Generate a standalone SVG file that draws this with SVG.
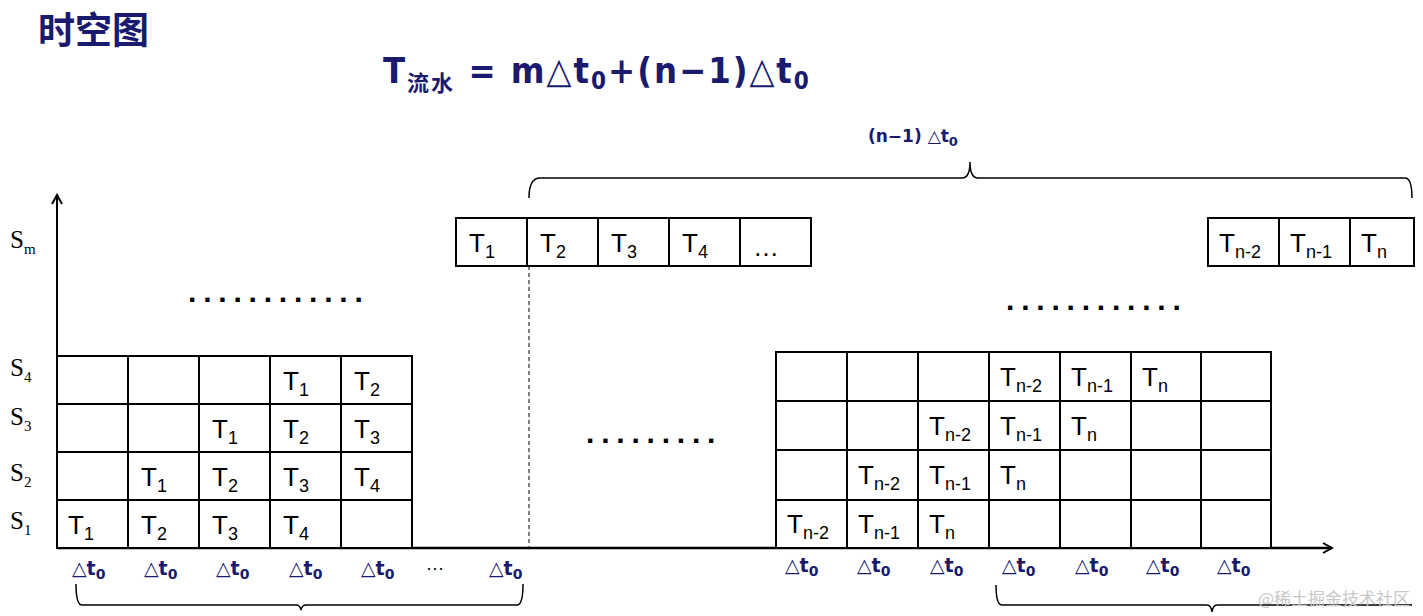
<svg xmlns="http://www.w3.org/2000/svg" width="1423" height="616" viewBox="0 0 1423 616">
<style>
.c{fill:#fff;stroke:#000;stroke-width:2}
.t{font-family:"Liberation Sans",Arial,sans-serif;font-size:26px;fill:#000}
.s{font-family:"Liberation Serif",serif;font-size:25px;fill:#000}
.d{font-family:"DejaVu Sans",sans-serif;font-size:19px;font-weight:bold;fill:#1a1a6e}
.dots{font-family:"Liberation Sans",Arial,sans-serif;font-size:30px;font-weight:bold;fill:#000;letter-spacing:6.8px}
.br{fill:none;stroke:#000;stroke-width:1.5}
</style>
<defs><marker id="ah" markerWidth="12" markerHeight="12" refX="10" refY="6" orient="auto" markerUnits="userSpaceOnUse"><path d="M1,1 L10,6 L1,11" fill="none" stroke="#000" stroke-width="2"/></marker></defs>
<rect width="1423" height="616" fill="#fff"/>
<text x="38" y="44" font-family="'Noto Sans CJK SC',sans-serif" font-size="37" font-weight="bold" fill="#1a1a6e">时空图</text>
<text x="383" y="83" font-family="'DejaVu Sans Condensed','DejaVu Sans',sans-serif" font-size="36" font-weight="bold" fill="#1a1a6e" letter-spacing="2">T<tspan font-family="'Noto Sans CJK SC',sans-serif" font-size="22" dy="8">流水</tspan><tspan dy="-8"> = m△t</tspan><tspan font-size="24" dy="6">0</tspan><tspan dy="-6">+(n−1)△t</tspan><tspan font-size="24" dy="6">0</tspan></text>
<text x="868" y="142" font-family="'DejaVu Sans',sans-serif" font-size="17" font-weight="bold" fill="#1a1a6e">(n−1) △t<tspan font-size="13" dy="4">0</tspan></text>
<g id="connectors">
<line x1="57" y1="548" x2="1332" y2="548" stroke="#000" stroke-width="2.5" marker-end="url(#ah)"/>
<line x1="57" y1="548" x2="57" y2="195" stroke="#000" stroke-width="2" marker-end="url(#ah)"/>
<line x1="529" y1="266" x2="529" y2="548" stroke="#000" stroke-width="1" stroke-dasharray="4,3"/>
<path class="br" d="M529,198 Q529,178 540,178 L962,178 Q970,178 970,162 Q970,178 978,178 L1405,178 Q1412,178 1412,198"/>
<path class="br" d="M76,584 Q76,605 82,605 L296,605 Q300,605 301,610 Q302,605 306,605 L517,605 Q523,605 523,584"/>
<path class="br" d="M996,585 Q996,605 1002,605 L1207,605 Q1211,605 1212,612 Q1213,605 1217,605 L1412,605"/>
</g>
<g id="labels-s">
<text class="s" x="10" y="248">S<tspan font-size="15" dy="6">m</tspan></text>
<text class="s" x="10" y="376">S<tspan font-size="15" dy="6">4</tspan></text>
<text class="s" x="10" y="425">S<tspan font-size="15" dy="6">3</tspan></text>
<text class="s" x="10" y="481">S<tspan font-size="15" dy="6">2</tspan></text>
<text class="s" x="10" y="529">S<tspan font-size="15" dy="6">1</tspan></text>
</g>
<g id="grid-left">
<rect class="c" x="57" y="356" width="71" height="48"/><rect class="c" x="128" y="356" width="71" height="48"/><rect class="c" x="199" y="356" width="71" height="48"/><rect class="c" x="270" y="356" width="71" height="48"/><rect class="c" x="341" y="356" width="71" height="48"/>
<rect class="c" x="57" y="404" width="71" height="48"/><rect class="c" x="128" y="404" width="71" height="48"/><rect class="c" x="199" y="404" width="71" height="48"/><rect class="c" x="270" y="404" width="71" height="48"/><rect class="c" x="341" y="404" width="71" height="48"/>
<rect class="c" x="57" y="452" width="71" height="48"/><rect class="c" x="128" y="452" width="71" height="48"/><rect class="c" x="199" y="452" width="71" height="48"/><rect class="c" x="270" y="452" width="71" height="48"/><rect class="c" x="341" y="452" width="71" height="48"/>
<rect class="c" x="57" y="500" width="71" height="48"/><rect class="c" x="128" y="500" width="71" height="48"/><rect class="c" x="199" y="500" width="71" height="48"/><rect class="c" x="270" y="500" width="71" height="48"/><rect class="c" x="341" y="500" width="71" height="48"/>
<text class="t" x="283" y="390">T<tspan font-size="18" dy="6">1</tspan></text><text class="t" x="354" y="390">T<tspan font-size="18" dy="6">2</tspan></text>
<text class="t" x="212" y="438">T<tspan font-size="18" dy="6">1</tspan></text><text class="t" x="283" y="438">T<tspan font-size="18" dy="6">2</tspan></text><text class="t" x="354" y="438">T<tspan font-size="18" dy="6">3</tspan></text>
<text class="t" x="141" y="486">T<tspan font-size="18" dy="6">1</tspan></text><text class="t" x="212" y="486">T<tspan font-size="18" dy="6">2</tspan></text><text class="t" x="283" y="486">T<tspan font-size="18" dy="6">3</tspan></text><text class="t" x="354" y="486">T<tspan font-size="18" dy="6">4</tspan></text>
<text class="t" x="68" y="534">T<tspan font-size="18" dy="6">1</tspan></text><text class="t" x="141" y="534">T<tspan font-size="18" dy="6">2</tspan></text><text class="t" x="212" y="534">T<tspan font-size="18" dy="6">3</tspan></text><text class="t" x="283" y="534">T<tspan font-size="18" dy="6">4</tspan></text>
</g>
<g id="row-sm-left">
<rect class="c" x="456" y="218" width="71" height="48"/><rect class="c" x="527" y="218" width="71" height="48"/><rect class="c" x="598" y="218" width="71" height="48"/><rect class="c" x="669" y="218" width="71" height="48"/><rect class="c" x="740" y="218" width="71" height="48"/>
<text class="t" x="469" y="252">T<tspan font-size="18" dy="6">1</tspan></text><text class="t" x="540" y="252">T<tspan font-size="18" dy="6">2</tspan></text><text class="t" x="611" y="252">T<tspan font-size="18" dy="6">3</tspan></text><text class="t" x="682" y="252">T<tspan font-size="18" dy="6">4</tspan></text><text class="t" x="753" y="256" font-size="22">…</text>
</g>
<g id="row-sm-right">
<rect class="c" x="1208" y="218" width="71" height="48"/><rect class="c" x="1279" y="218" width="71" height="48"/><rect class="c" x="1350" y="218" width="64" height="48"/>
<text class="t" x="1219" y="252">T<tspan font-size="18" dy="6">n-2</tspan></text><text class="t" x="1290" y="252">T<tspan font-size="18" dy="6">n-1</tspan></text><text class="t" x="1361" y="252">T<tspan font-size="18" dy="6">n</tspan></text>
</g>
<g id="grid-right">
<rect class="c" x="776" y="352" width="71" height="49"/><rect class="c" x="847" y="352" width="71" height="49"/><rect class="c" x="918" y="352" width="71" height="49"/><rect class="c" x="989" y="352" width="71" height="49"/><rect class="c" x="1060" y="352" width="71" height="49"/><rect class="c" x="1131" y="352" width="70" height="49"/><rect class="c" x="1201" y="352" width="70" height="49"/>
<rect class="c" x="776" y="401" width="71" height="49"/><rect class="c" x="847" y="401" width="71" height="49"/><rect class="c" x="918" y="401" width="71" height="49"/><rect class="c" x="989" y="401" width="71" height="49"/><rect class="c" x="1060" y="401" width="71" height="49"/><rect class="c" x="1131" y="401" width="70" height="49"/><rect class="c" x="1201" y="401" width="70" height="49"/>
<rect class="c" x="776" y="450" width="71" height="50"/><rect class="c" x="847" y="450" width="71" height="50"/><rect class="c" x="918" y="450" width="71" height="50"/><rect class="c" x="989" y="450" width="71" height="50"/><rect class="c" x="1060" y="450" width="71" height="50"/><rect class="c" x="1131" y="450" width="70" height="50"/><rect class="c" x="1201" y="450" width="70" height="50"/>
<rect class="c" x="776" y="500" width="71" height="48"/><rect class="c" x="847" y="500" width="71" height="48"/><rect class="c" x="918" y="500" width="71" height="48"/><rect class="c" x="989" y="500" width="71" height="48"/><rect class="c" x="1060" y="500" width="71" height="48"/><rect class="c" x="1131" y="500" width="70" height="48"/><rect class="c" x="1201" y="500" width="70" height="48"/>
<text class="t" x="1000" y="386">T<tspan font-size="18" dy="6">n-2</tspan></text><text class="t" x="1071" y="386">T<tspan font-size="18" dy="6">n-1</tspan></text><text class="t" x="1142" y="386">T<tspan font-size="18" dy="6">n</tspan></text>
<text class="t" x="929" y="435">T<tspan font-size="18" dy="6">n-2</tspan></text><text class="t" x="1000" y="435">T<tspan font-size="18" dy="6">n-1</tspan></text><text class="t" x="1071" y="435">T<tspan font-size="18" dy="6">n</tspan></text>
<text class="t" x="858" y="484">T<tspan font-size="18" dy="6">n-2</tspan></text><text class="t" x="929" y="484">T<tspan font-size="18" dy="6">n-1</tspan></text><text class="t" x="1000" y="484">T<tspan font-size="18" dy="6">n</tspan></text>
<text class="t" x="787" y="533">T<tspan font-size="18" dy="6">n-2</tspan></text><text class="t" x="858" y="533">T<tspan font-size="18" dy="6">n-1</tspan></text><text class="t" x="929" y="533">T<tspan font-size="18" dy="6">n</tspan></text>
</g>
<g id="dots">
<text class="dots" x="188" y="302">............</text>
<text class="dots" x="586" y="443">.........</text>
<text class="dots" x="1006" y="310">............</text>
</g>
<g id="axis-labels">
<text class="d" x="72" y="575">△t<tspan font-size="14" dy="4">0</tspan></text>
<text class="d" x="144" y="575">△t<tspan font-size="14" dy="4">0</tspan></text>
<text class="d" x="216" y="575">△t<tspan font-size="14" dy="4">0</tspan></text>
<text class="d" x="289" y="575">△t<tspan font-size="14" dy="4">0</tspan></text>
<text class="d" x="361" y="575">△t<tspan font-size="14" dy="4">0</tspan></text>
<text x="426" y="574" font-family="'Liberation Sans',sans-serif" font-size="18" fill="#000">···</text>
<text class="d" x="489" y="575">△t<tspan font-size="14" dy="4">0</tspan></text>
<text class="d" x="785" y="572">△t<tspan font-size="14" dy="4">0</tspan></text>
<text class="d" x="857" y="572">△t<tspan font-size="14" dy="4">0</tspan></text>
<text class="d" x="930" y="572">△t<tspan font-size="14" dy="4">0</tspan></text>
<text class="d" x="1002" y="572">△t<tspan font-size="14" dy="4">0</tspan></text>
<text class="d" x="1075" y="572">△t<tspan font-size="14" dy="4">0</tspan></text>
<text class="d" x="1146" y="572">△t<tspan font-size="14" dy="4">0</tspan></text>
<text class="d" x="1217" y="572">△t<tspan font-size="14" dy="4">0</tspan></text>
</g>
<text x="1258" y="605" font-family="'Noto Sans CJK SC',sans-serif" font-size="17" fill="#c8c8c8">@稀土掘金技术社区</text>
</svg>
